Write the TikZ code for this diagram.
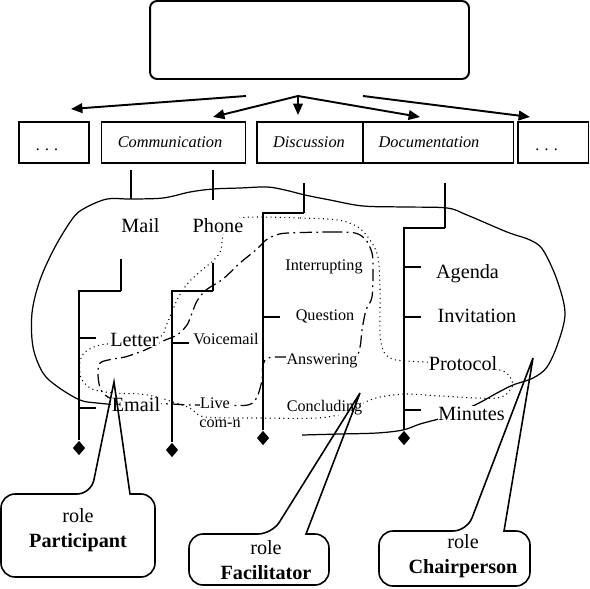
\documentclass[tikz,border=0pt]{standalone}
\usepackage{fontspec}
\setmainfont{Liberation Serif}
\usepackage{tikz}
\usetikzlibrary{arrows.meta}
\usetikzlibrary{shapes.geometric}

\begin{document}
\begin{tikzpicture}[x=0.02cm, y=-0.02cm]
\tikzstyle{lbl}=[fill=white, inner sep=0.3pt, font=\fontsize{11.5}{14}\selectfont]
\tikzstyle{sml}=[fill=white, inner sep=0.2pt, font=\fontsize{9.2}{11}\selectfont]
\tikzstyle{catbox}=[draw, line width=1.1pt, minimum height=0.82cm, font=\fontsize{9.3}{11}\selectfont\itshape]
\tikzstyle{cattxt}=[font=\fontsize{9.3}{11}\selectfont\itshape]
\tikzstyle{tree}=[line width=1.2pt]
\tikzstyle{stub}=[line width=0.6pt]
\tikzstyle{dmd}=[diamond, fill=black, inner sep=0pt, minimum width=0.25cm, minimum height=0.29cm]
\tikzstyle{blob}=[line width=0.7pt]
\tikzstyle{dotline}=[dotted, line width=0.6pt]
\tikzstyle{ddline}=[dash pattern=on 7pt off 2.5pt on 1pt off 2.5pt, line width=0.7pt]
\tikzstyle{callout}=[line width=0.9pt]
\tikzstyle{arr}=[line width=1.1pt, -{Triangle[length=6.5pt,width=5.5pt]}]
\useasboundingbox (0,0) rectangle (590,588);

\node[draw, line width=1.1pt, rounded corners=4pt, minimum width=6.38cm, minimum height=1.56cm] (head) at (309.5,40) {};

\coordinate (fork) at (298,96);
\coordinate (lfrom) at (246,96);
\coordinate (rfrom) at (363,96);
\coordinate (ltip) at (71,109);
\coordinate (ctip) at (213,117);
\coordinate (dtip) at (298,115);
\coordinate (otip) at (420,117);
\coordinate (rtip) at (530,117);
\foreach \s/\t in {lfrom/ltip, fork/ctip, fork/dtip, fork/otip, rfrom/rtip}{
\draw[arr] (\s) -- (\t);}

\node[catbox, minimum width=1.4cm] (more1) at (54,142.5) {};
\node[catbox, minimum width=2.88cm] (comm) at (173.5,142.5) {};
\node[catbox, minimum width=5.13cm] (discdoc) at (385.25,142.5) {};
\node[catbox, minimum width=1.41cm] (more2) at (553.25,142.5) {};
\node[cattxt] (commtxt) at (170,142.5) {Communication};
\node[cattxt] (disc) at (309,142.5) {Discussion};
\node[cattxt] (doc) at (429,142.5) {Documentation};
\node[font=\fontsize{9}{10}\selectfont] (dots1) at (47,150) {. . .};
\node[font=\fontsize{9}{10}\selectfont] (dots2) at (546.5,150) {. . .};
\coordinate (div) at (363,0);
\draw[stub] (discdoc.north -| div) -- (discdoc.south -| div);

% regions
\draw[blob] plot[smooth, tension=0.55] coordinates {(302,435) (340,434) (377,433) (403,430) (420,424) (445,417) (475,405) (497,393) (513,385) (533,378) (547,367) (558,343) (565,313) (557,280) (543,250) (530,240) (507,232) (467,215) (447,208) (405,207) (363,206) (330,200) (305,195) (285,190) (267,187) (240,188) (213,189) (190,192) (163,198) (130,199) (107,199) (85,208) (73,218) (55,247) (40,280) (32,313) (33,347) (43,373) (58,387) (80,400) (97,403) (130,406)};
\draw[dotline] plot[smooth cycle, tension=0.5] coordinates {(240,218) (300,218) (338,220) (358,227) (370,240) (378,257) (380,290) (380,333) (383,350) (390,358) (405,361) (463,364) (500,370) (510,377) (512,387) (497,398) (440,396) (407,394) (380,397) (363,403) (345,413) (317,418) (260,418) (205,417) (190,408) (173,402) (157,397) (140,394) (113,393) (92,389) (81,378) (80,362) (85,352) (100,345) (130,342) (160,337) (166,326) (172,312) (178,298) (188,283) (202,270) (214,260) (221,250) (224,233)};
\draw[ddline] plot[smooth cycle, tension=0.5] coordinates {(288,233) (330,232) (355,233) (366,240) (372,253) (373,267) (372,297) (366,310) (362,330) (360,347) (354,357) (320,360) (287,357) (268,358) (263,365) (262,380) (257,397) (248,405) (220,405) (190,405) (172,404) (140,403) (112,399) (101,390) (98,375) (100,363) (113,359) (125,357) (145,350) (163,341) (177,335) (187,325) (192,313) (197,301) (206,290) (223,279) (240,263) (257,249) (266,240) (276,235)};

\node[lbl] (mail) at (140.5,226) {Mail};
\node[lbl] (phone) at (218,226) {Phone};
\node[lbl] (letter) at (134.5,339.5) {Letter};
\node[lbl] (email) at (136,405) {Email};
\node[sml] (voice) at (226,339) {Voicemail};
\node[sml] (live) at (215,403) {Live};
\node[sml] (comn) at (220,424) {com-n};
\node[sml] (interr) at (324,267) {Interrupting};
\node[sml] (quest) at (325,316) {Question};
\node[sml] (answ) at (322,361) {Answering};
\node[sml] (concl) at (324.5,407.5) {Concluding};
\node[lbl] (agenda) at (467.5,274) {Agenda};
\node[lbl] (invit) at (477,316) {Invitation};
\node[lbl] (protocol) at (463,363.5) {Protocol};
\node[lbl] (minutes) at (471.5,413.5) {Minutes};

% trees
\coordinate (mailup) at (131,170);
\coordinate (maildn) at (131,199);
\coordinate (phoneup) at (213,170);
\coordinate (phonedn) at (213,200);
\coordinate (discup) at (304,183);
\coordinate (discbend) at (304,213);
\coordinate (docup) at (445,183);
\coordinate (docbend) at (445,228);
\coordinate (mailst) at (121,259);
\coordinate (mailbend) at (121,291);
\coordinate (phonest) at (213,263);
\coordinate (phonebend) at (213,291);
\node[dmd] (dm1) at (79,448) {};
\node[dmd] (dm2) at (172,450) {};
\node[dmd] (dm3) at (263,438) {};
\node[dmd] (dm4) at (404,438) {};
\draw[tree] (mailup) -- (maildn);
\draw[stub] (phoneup) -- (phonedn);
\draw[stub] (discup) -- (discbend);
\draw[tree] (discbend) -| (dm3);
\draw[stub] (docup) -- (docbend);
\draw[tree] (docbend) -| (dm4);
\draw[stub] (mailst) -- (mailbend);
\draw[tree] (mailbend) -| (dm1);
\draw[stub] (phonest) -- (phonebend);
\draw[tree] (phonebend) -| (dm2);
\foreach \v/\y in {dm1/338, dm1/408, dm2/343, dm3/317, dm4/267, dm4/317, dm4/410}{
\draw[tree] (\v |- 0,\y) -- ++(17,0);}

% roles
\coordinate (pa) at (114,382);
\coordinate (fa) at (360,393);
\coordinate (ca) at (533,358);
\draw[callout] (130,494) [rounded corners=8pt] -- (155,494) -- (155,577) -- (1,577) -- (1,494) -- (91,494) [sharp corners] -- (pa) -- cycle;
\draw[callout] (306,534) [rounded corners=8pt] -- (329,534) -- (329,585) -- (189,585) -- (189,534) -- (272,534) [sharp corners] -- (fa) -- cycle;
\draw[callout] (504,531) [rounded corners=8pt] -- (530,531) -- (530,586) -- (379,586) -- (379,531) -- (467,531) [sharp corners] -- (ca) -- cycle;
\node[lbl, fill=none, align=center] (part) at (78,530) {role\\\textbf{Participant}};
\node[lbl, fill=none, align=center] (facil) at (266,560) {role\\\textbf{Facilitator}};
\node[lbl, fill=none, align=center] (chair) at (463,556) {role\\\textbf{Chairperson}};
\end{tikzpicture}
\end{document}
